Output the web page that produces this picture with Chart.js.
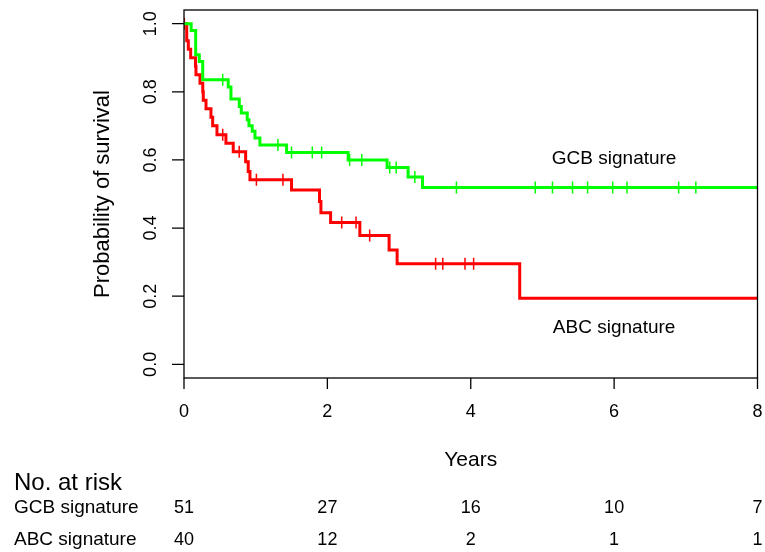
<!DOCTYPE html>
<html>
<head>
<meta charset="utf-8">
<script src="https://cdn.jsdelivr.net/npm/chart.js@4"></script>
<style>
  html, body { margin: 0; padding: 0; background: #fff; }
  canvas { display: block; }
</style>
</head>
<body>
<canvas id="km" width="765" height="552"></canvas>
<script>
const gcbTimes  = [0, 0.10, 0.163, 0.213, 0.261, 0.617, 0.655, 0.771, 0.799, 0.882, 0.906, 0.952, 0.990, 1.059, 1.431, 2.29, 2.833, 3.126, 3.327, 8];
const gcbSurv   = [1, 0.980, 0.909, 0.889, 0.835, 0.814, 0.779, 0.757, 0.738, 0.718, 0.700, 0.684, 0.664, 0.644, 0.622, 0.600, 0.578, 0.550, 0.519, 0.519];
const gcbCensor = [0.54, 1.31, 1.50, 1.79, 1.92, 2.31, 2.48, 2.87, 2.96, 3.22, 3.80, 4.90, 5.14, 5.42, 5.63, 5.98, 6.18, 6.90, 7.14];

const abcTimes  = [0, 0.038, 0.06, 0.093, 0.16, 0.167, 0.223, 0.262, 0.269, 0.307, 0.376, 0.40, 0.46, 0.585, 0.687, 0.86, 0.896, 0.92, 1.50, 1.89, 1.91, 2.045, 2.453, 2.861, 2.973, 4.683, 8];
const abcSurv   = [1, 0.95, 0.925, 0.90, 0.875, 0.85, 0.825, 0.80, 0.775, 0.75, 0.725, 0.70, 0.674, 0.649, 0.624, 0.595, 0.566, 0.542, 0.512, 0.478, 0.445, 0.416, 0.378, 0.336, 0.295, 0.194, 0.194];
const abcCensor = [0.005, 0.54, 0.77, 1.01, 1.38, 2.20, 2.40, 2.59, 3.51, 3.61, 3.92, 4.04];

const xTicks = [0, 2, 4, 6, 8];
const yTicks = [0, 0.2, 0.4, 0.6, 0.8, 1.0];
const yTickLabels = ['0.0', '0.2', '0.4', '0.6', '0.8', '1.0'];

const riskTimes = [0, 2, 4, 6, 8];
const gcbRisk   = [51, 27, 16, 10, 7];
const abcRisk   = [40, 12, 2, 1, 1];

const GREEN = '#00ff00', RED = '#ff0000';
const FONT = '"Liberation Sans", Arial, Helvetica, sans-serif';

// survival at time t from the step curve
function survAt(times, surv, t) {
  let s = surv[0];
  for (let i = 0; i < times.length; i++) if (times[i] <= t) s = surv[i];
  return s;
}
const curve  = (times, surv) => times.map((t, i) => ({ x: t, y: surv[i] }));
const marks  = (cens, times, surv) => cens.map(t => ({ x: t, y: survAt(times, surv, t) }));

// ── R-style frame, axes, labels and risk table ────────────────────────────────
const rStyle = {
  id: 'rStyle',
  afterDraw(chart) {
    const { ctx, chartArea: a, scales: { x, y } } = chart;
    ctx.save();
    ctx.strokeStyle = '#000'; ctx.fillStyle = '#000'; ctx.lineWidth = 1.3;
    ctx.strokeRect(a.left, a.top, a.right - a.left, a.bottom - a.top);

    ctx.font = '18px ' + FONT;
    ctx.textAlign = 'center'; ctx.textBaseline = 'middle';
    ctx.beginPath();
    xTicks.forEach(v => { const px = x.getPixelForValue(v); ctx.moveTo(px, a.bottom); ctx.lineTo(px, a.bottom + 11); });
    yTicks.forEach(v => { const py = y.getPixelForValue(v); ctx.moveTo(a.left - 12, py); ctx.lineTo(a.left, py); });
    ctx.stroke();
    xTicks.forEach(v => ctx.fillText(String(v), x.getPixelForValue(v), a.bottom + 34));
    yTicks.forEach((v, i) => {
      ctx.save(); ctx.translate(a.left - 33, y.getPixelForValue(v)); ctx.rotate(-Math.PI / 2);
      ctx.fillText(yTickLabels[i], 0, 0); ctx.restore();
    });

    ctx.font = '21px ' + FONT;
    ctx.fillText('Years', (a.left + a.right) / 2, 460);
    ctx.font = '22px ' + FONT;
    ctx.save(); ctx.translate(103, (a.top + a.bottom) / 2); ctx.rotate(-Math.PI / 2);
    ctx.fillText('Probability of survival', 0, 0); ctx.restore();

    ctx.font = '19px ' + FONT;
    ctx.fillText('GCB signature', x.getPixelForValue(6), y.getPixelForValue(0.603));
    ctx.fillText('ABC signature', x.getPixelForValue(6), y.getPixelForValue(0.107));

    // number at risk
    ctx.textAlign = 'left';
    ctx.font = '24px ' + FONT;
    ctx.fillText('No. at risk', 14, 483);
    ctx.font = '19px ' + FONT;
    ctx.fillText('GCB signature', 14, 508);
    ctx.fillText('ABC signature', 14, 540);
    ctx.font = '18px ' + FONT;
    ctx.textAlign = 'center';
    riskTimes.forEach((t, i) => {
      const px = x.getPixelForValue(t);
      ctx.fillText(String(gcbRisk[i]), px, 508);
      ctx.fillText(String(abcRisk[i]), px, 540);
    });
    ctx.restore();
  }
};

new Chart(document.getElementById('km'), {
  type: 'line',
  data: {
    datasets: [
      { data: curve(gcbTimes, gcbSurv), borderColor: GREEN, borderWidth: 3, stepped: 'before', pointRadius: 0, fill: false },
      { data: curve(abcTimes, abcSurv), borderColor: RED, borderWidth: 3, stepped: 'before', pointRadius: 0, fill: false },
      { type: 'scatter', data: marks(gcbCensor, gcbTimes, gcbSurv), pointStyle: 'line', rotation: 90, pointRadius: 6,
        borderColor: GREEN, backgroundColor: GREEN, borderWidth: 1.5 },
      { type: 'scatter', data: marks(abcCensor, abcTimes, abcSurv), pointStyle: 'line', rotation: 90, pointRadius: 6,
        borderColor: RED, backgroundColor: RED, borderWidth: 1.5 }
    ]
  },
  options: {
    responsive: false, animation: false, devicePixelRatio: 1,
    layout: { padding: { left: 184, right: 7, top: 10, bottom: 174 } },
    plugins: { legend: { display: false }, tooltip: { enabled: false } },
    scales: {
      x: { type: 'linear', min: 0, max: 8, display: false },
      y: { type: 'linear', min: -0.04, max: 1.04, display: false }
    }
  },
  plugins: [rStyle]
});
</script>
</body>
</html>
